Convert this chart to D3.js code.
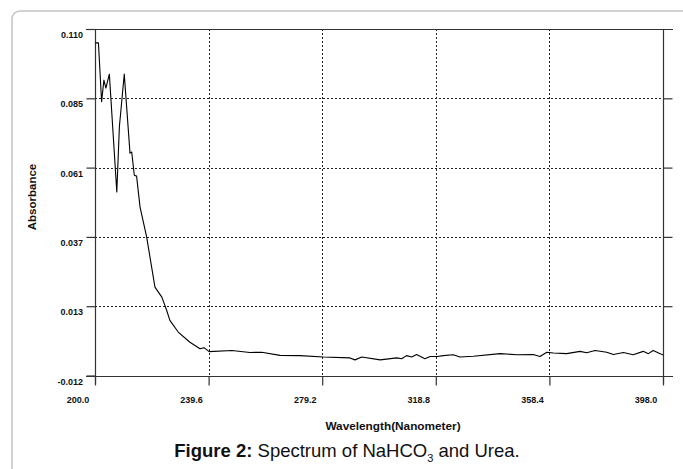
<!DOCTYPE html>
<html lang="en">
<head>
<meta charset="UTF-8">
<title>Spectrum of NaHCO3 and Urea</title>
<script src="https://cdnjs.cloudflare.com/ajax/libs/d3/7.8.5/d3.min.js"></script>
<style>
  body { margin: 0; padding: 0; background: #fff; }
  svg { display: block; font-family: "Liberation Sans", Arial, sans-serif; }
  .tick-label { font-size: 9px; font-weight: bold; fill: #111; }
  .axis-title { font-weight: bold; fill: #111; }
</style>
</head>
<body>
<div id="chart"></div>
<script>
// wavelength (nm) and absorbance
const wavelength = [200.2, 201.2, 202.3, 203.1, 203.8, 205.0, 207.6, 208.5, 210.2, 212.2, 212.8, 213.7, 214.5,
  215.7, 218.0, 220.9, 223.3, 225.0, 226.1, 229.0, 233.1, 236.6, 238.0, 239.8, 247.7, 254.0, 258.1,
  264.5, 271.5, 279.6, 288.9, 290.6, 293.0, 299.4, 305.2, 306.9, 308.6, 310.4, 312.1, 315.0, 316.8,
  319.3, 321.4, 324.9, 327.2, 331.9, 341.2, 347.0, 352.8, 355.1, 357.5, 359.8, 364.4, 369.1, 371.4,
  374.3, 378.4, 380.7, 384.2, 387.6, 391.1, 392.9, 394.6, 397.0, 398.0];
const absorbance = [0.1051, 0.1051, 0.0844, 0.0920, 0.0892, 0.0941, 0.0526, 0.0756, 0.0941, 0.0663, 0.0667, 0.0585, 0.0582,
  0.0473, 0.0368, 0.0191, 0.0156, 0.0109, 0.0074, 0.0033, -0.0003, -0.0026, -0.0022, -0.0036, -0.0032, -0.0039, -0.0038,
  -0.0049, -0.0050, -0.0055, -0.0058, -0.0065, -0.0055, -0.0065, -0.0058, -0.0061, -0.0050, -0.0055, -0.0046, -0.0061, -0.0053,
  -0.0053, -0.0050, -0.0047, -0.0055, -0.0052, -0.0043, -0.0047, -0.0046, -0.0053, -0.0038, -0.0041, -0.0043, -0.0035, -0.0040,
  -0.0032, -0.0038, -0.0046, -0.0039, -0.0047, -0.0035, -0.0043, -0.0032, -0.0043, -0.0048];

const xTicks = [200.0, 239.6, 279.2, 318.8, 358.4, 398.0];
const yTicks = [-0.012, 0.0124, 0.0368, 0.0612, 0.0856, 0.110];
const yTickLabels = ["-0.012", "0.013", "0.037", "0.061", "0.085", "0.110"];

const W = 683, H = 469;
const svg = d3.select("#chart").append("svg").attr("width", W).attr("height", H);

// card frame
svg.append("rect")
  .attr("x", 12).attr("y", 11).attr("width", 720).attr("height", 520)
  .attr("rx", 8).attr("fill", "none").attr("stroke", "#c4c4c4").attr("stroke-width", 1.5);

const x = d3.scaleLinear().domain([200, 398]).range([95, 663]);
const y = d3.scaleLinear().domain([-0.012, 0.110]).range([375.5, 29]);

// dotted grid
const grid = svg.append("g").attr("stroke", "#222").attr("stroke-width", 1).attr("stroke-dasharray", "2,2");
grid.selectAll("line.gx").data(xTicks.slice(1, -1)).enter().append("line")
  .attr("x1", d => Math.round(x(d)) + 0.5).attr("x2", d => Math.round(x(d)) + 0.5)
  .attr("y1", y(0.110)).attr("y2", y(-0.012));
grid.selectAll("line.gy").data(yTicks.slice(1, -1)).enter().append("line")
  .attr("y1", d => Math.round(y(d)) + 0.5).attr("y2", d => Math.round(y(d)) + 0.5)
  .attr("x1", x(200)).attr("x2", x(398));

// axes (ticks drawn outward)
const xAxis = svg.append("g").attr("transform", `translate(0,${Math.round(y(-0.012)) + 0.5})`)
  .call(d3.axisBottom(x).tickValues(xTicks).tickSize(9).tickFormat(""));
const yAxis = svg.append("g").attr("transform", `translate(${Math.round(x(200)) + 0.5},0)`)
  .call(d3.axisLeft(y).tickValues(yTicks).tickSize(9).tickFormat(""));
const topAxis = svg.append("g").attr("transform", `translate(0,${Math.round(y(0.110)) + 0.5})`)
  .call(d3.axisTop(x).tickValues([]).tickSizeOuter(0));
const rightAxis = svg.append("g").attr("transform", `translate(${Math.round(x(398)) + 0.5},0)`)
  .call(d3.axisRight(y).tickValues(yTicks).tickSize(9).tickSizeOuter(0).tickFormat(""));
[xAxis, yAxis, topAxis, rightAxis].forEach(g => {
  g.selectAll("path, line").attr("stroke", "#333").attr("stroke-width", 1.2);
});
xAxis.select(".domain").attr("d", `M86,0H673`);
topAxis.select(".domain").attr("d", `M86,0H673`);
yAxis.select(".domain").attr("d", `M0,29V384`);
rightAxis.select(".domain").attr("d", `M0,29V384`);
rightAxis.selectAll(".tick").filter(d => d === 0.110 || d === -0.012).remove();

// tick labels
svg.append("g").selectAll("text").data(xTicks).enter().append("text")
  .attr("class", "tick-label")
  .attr("x", d => x(d) - 17).attr("y", 402.5)
  .attr("text-anchor", "middle")
  .text(d => d.toFixed(1));
svg.append("g").selectAll("text").data(yTicks).enter().append("text")
  .attr("class", "tick-label")
  .attr("x", 83).attr("y", d => y(d) + 9)
  .attr("text-anchor", "end")
  .text((d, i) => yTickLabels[i]);

// axis titles
svg.append("text").attr("class", "axis-title")
  .attr("transform", "translate(36,197) rotate(-90)")
  .attr("text-anchor", "middle").attr("font-size", 11.5)
  .text("Absorbance");
svg.append("text").attr("class", "axis-title")
  .attr("x", 393).attr("y", 430)
  .attr("text-anchor", "middle").attr("font-size", 11.8)
  .text("Wavelength(Nanometer)");

// spectrum line
const pts = wavelength.map((w, i) => [w, absorbance[i]]);
svg.append("path")
  .datum(pts)
  .attr("fill", "none").attr("stroke", "#000").attr("stroke-width", 1.1)
  .attr("stroke-linejoin", "round")
  .attr("d", d3.line().x(d => x(d[0])).y(d => y(d[1])));

// caption
const cap = svg.append("text")
  .attr("x", 347).attr("y", 456.5)
  .attr("text-anchor", "middle")
  .attr("font-size", 18.5).attr("fill", "#111");
cap.append("tspan").attr("font-weight", "bold").text("Figure 2:");
cap.append("tspan").text(" Spectrum of NaHCO");
cap.append("tspan").attr("font-size", 11).attr("dy", 5).text("3");
cap.append("tspan").attr("dy", -5).text(" and Urea.");
</script>
</body>
</html>
